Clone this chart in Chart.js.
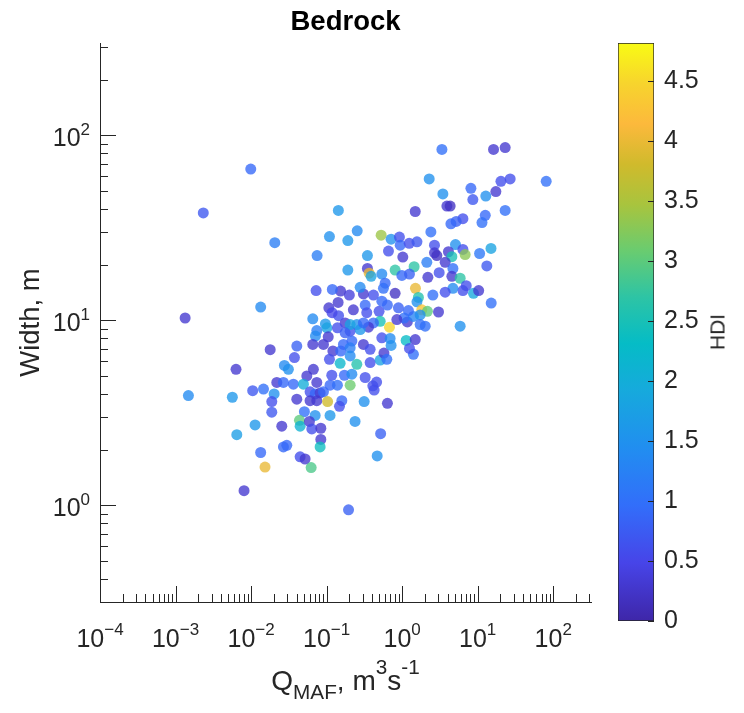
<!DOCTYPE html>
<html>
<head>
<meta charset="utf-8">
<script src="https://cdn.jsdelivr.net/npm/chart.js@4.4.1/dist/chart.umd.min.js"></script>
<style>
    body { margin: 0; background: #fff; }
    #wrap { position: relative; width: 744px; height: 713px; font-family: 'Liberation Sans', Arial, Helvetica, sans-serif; color: #262626; }
    #wrap canvas { position: absolute; left: 0; top: 0; }
    #xtitle { position: absolute; left: 100px; width: 491px; top: 667px; text-align: center; font-size: 28px; line-height: 1; white-space: nowrap; }
    #xtitle sub { font-size: 0.74em; vertical-align: -0.45em; line-height: 0; }
    #xtitle sup { font-size: 0.74em; vertical-align: 0.75em; line-height: 0; }
    #cbtitle { position: absolute; left: 717px; top: 332px; font-size: 21px; line-height: 1; transform: translate(-50%, -50%) rotate(-90deg); }
</style>
</head>
<body>
<div id="wrap">
    <canvas id="scatterChart" width="744" height="713"></canvas>
    <canvas id="colorbar" width="744" height="713"></canvas>
    <div id="xtitle">Q<sub>MAF</sub>, m<sup>3</sup>s<sup>-1</sup></div>
    <div id="cbtitle">HDI</div>
</div>
<script>
// Bedrock channels: mean annual flood discharge vs width, coloured by HDI

// Q_MAF (m3/s)
const qmaf = [
    3.36, 16.2, 23.1, 80.7, 0.0099, 0.00233, 0.143, 0.0206, 0.109, 0.191,
    0.0748, 0.191, 0.0134, 0.00134, 0.00632, 0.00148, 0.00565, 0.00647, 0.00807, 0.0153,
    0.195, 2.28, 20.3, 26.9, 8.13, 3.46, 8.63, 12.8, 17.4, 3.91,
    4.32, 23.1, 1.49, 12.6, 11.4, 6.37, 5.19, 4.42, 2.40, 0.254,
    0.527, 0.714, 0.920, 0.942, 1.24, 1.57, 2.68, 5.08, 6.37, 6.82,
    10.6, 15.0, 13.2, 0.659, 0.347, 1.02, 2.68, 2.88, 4.10, 4.55,
    2.12, 3.71, 1.44, 0.807, 0.347, 0.366, 0.388, 0.538, 0.991, 1.25,
    2.19, 3.09, 4.70, 4.55, 5.86, 7.05, 6.37, 8.80, 10.3, 15.1,
    4.70, 3.71, 2.55, 1.50, 1.64, 1.57, 1.82, 2.16, 3.03, 5.86,
    0.679, 1.13, 1.49, 2.02, 1.17, 1.41, 0.596, 0.565, 0.807, 0.417,
    0.307, 0.200, 0.153, 0.119, 0.142, 0.226, 0.324, 0.340, 0.495, 0.638,
    0.893, 1.21, 1.06, 0.851, 0.512, 0.417, 0.358, 0.251, 0.176, 0.144,
    0.205, 0.278, 0.538, 0.693, 0.216, 0.538, 1.73, 1.73, 0.278, 0.205,
    0.307, 0.107, 0.118, 0.0656, 0.0964, 0.101, 0.139, 0.176, 0.0741, 0.0711,
    0.105, 0.0656, 0.0908, 0.0403, 0.0179, 0.0726, 0.307, 0.167, 0.121, 0.154,
    0.205, 0.377, 0.0375, 0.109, 0.151, 0.205, 0.251, 0.377, 0.512, 0.0276,
    0.0312, 0.0668, 0.0547, 0.117, 0.172, 0.216, 0.324, 0.459, 0.0219, 0.0268,
    0.0363, 0.0493, 0.0741, 0.111, 0.139, 0.205, 0.409, 0.426, 0.0105, 0.0146,
    0.0202, 0.0604, 0.0705, 0.0820, 0.0908, 0.0403, 0.0604, 0.0741, 0.103, 0.159,
    0.148, 0.314, 0.0188, 0.0188, 0.0508, 0.0705, 0.111, 0.0113, 0.0255, 0.0437,
    0.0446, 0.0592, 0.0637, 0.0838, 0.238, 0.0838, 0.0820, 0.0268, 0.0297, 0.0134,
    0.0446, 0.0519, 0.0624, 0.467, 0.519, 1.41, 1.25, 0.574, 0.627, 0.638,
    0.714
];

// Width (m)
const widthM = [
    84, 84, 86, 56.5, 65.8, 38.1, 39.3, 26.3, 28.4, 27.0,
    22.4, 18.7, 11.8, 10.3, 5.44, 3.92, 3.84, 2.41, 1.20, 1.61,
    0.946, 58.2, 56.5, 58.2, 51.8, 48.3, 45.0, 47.0, 49.7, 41.5,
    41.5, 39.3, 38.8, 37.0, 33.8, 35.5, 34.3, 33.3, 30.1, 30.5,
    28.9, 27.5, 28.2, 25.5, 26.1, 26.6, 25.5, 25.7, 24.2, 22.7,
    23.0, 24.5, 19.7, 23.7, 22.4, 22.0, 23.2, 22.4, 23.5, 22.1,
    20.6, 20.6, 19.5, 18.7, 19.1, 18.0, 17.3, 17.8, 17.5, 17.8,
    17.1, 18.1, 19.1, 17.3, 16.9, 15.4, 14.5, 14.0, 14.5, 12.4,
    14.9, 14.2, 13.7, 14.9, 13.3, 12.6, 11.4, 11.2, 11.1, 9.30,
    9.19, 7.79, 7.88, 9.30, 9.81, 10.5, 15.9, 14.9, 14.0, 13.7,
    13.9, 13.7, 14.4, 14.7, 12.5, 11.4, 12.1, 11.0, 11.2, 12.1,
    11.7, 11.3, 10.3, 10.1, 9.89, 9.69, 9.19, 9.49, 9.69, 10.6,
    8.74, 8.92, 8.05, 7.98, 7.73, 12.7, 10.7, 9.49, 15.1, 9.49,
    9.69, 11.7, 11.0, 10.2, 9.57, 9.11, 9.11, 8.56, 8.81, 8.22,
    8.15, 7.41, 7.41, 7.26, 6.94, 14.5, 7.41, 7.41, 6.83, 6.83,
    7.11, 6.97, 6.29, 6.16, 5.86, 6.42, 5.79, 5.91, 6.10, 5.71,
    5.44, 5.44, 5.01, 5.05, 5.05, 5.12, 4.91, 4.64, 4.62, 4.62,
    4.52, 4.52, 4.62, 4.46, 4.46, 4.46, 4.43, 4.20, 4.17, 4.25,
    4.00, 4.11, 4.00, 4.05, 4.11, 3.75, 3.68, 3.68, 3.64, 3.68,
    3.43, 3.64, 3.64, 3.19, 3.21, 3.06, 3.06, 2.72, 2.68, 2.88,
    2.68, 2.84, 2.59, 2.61, 2.84, 2.27, 2.07, 2.07, 2.11, 1.93,
    1.83, 1.78, 1.60, 1.85, 2.44, 6.55, 7.05, 6.66, 6.16, 3.56,
    7.32
];

// HDI (colour)
const hdi = [
    1.0, 0.3, 0.3, 1.0, 0.9, 0.7, 1.6, 1.2, 1.5, 1.6,
    1.2, 1.6, 1.4, 0.3, 0.3, 1.4, 1.6, 1.7, 0.3, 4.0,
    0.8, 1.5, 0.6, 0.6, 0.9, 1.5, 0.7, 1.5, 0.3, 0.3,
    0.2, 1.0, 0.3, 0.9, 1.0, 0.6, 0.8, 0.9, 1.0, 1.4,
    3.4, 1.5, 0.6, 0.9, 0.6, 0.7, 0.6, 1.5, 0.6, 3.3,
    1.1, 1.8, 0.7, 0.6, 1.6, 0.3, 0.3, 0.2, 0.3, 2.5,
    1.2, 0.3, 2.7, 2.7, 0.3, 4.0, 1.8, 1.4, 0.9, 0.8,
    0.3, 0.6, 1.0, 0.3, 2.7, 0.6, 0.6, 1.9, 0.3, 1.0,
    1.4, 0.6, 1.0, 4.0, 2.6, 1.5, 4.3, 3.0, 0.3, 1.5,
    4.5, 2.3, 0.3, 1.0, 0.3, 1.3, 0.9, 1.0, 0.2, 0.6,
    0.3, 0.4, 0.3, 0.9, 0.3, 0.3, 0.9, 0.6, 0.6, 0.9,
    0.8, 0.9, 1.0, 0.3, 2.5, 0.9, 0.3, 1.5, 0.3, 0.6,
    0.6, 1.6, 0.6, 1.4, 0.9, 0.9, 1.5, 1.0, 1.4, 1.8,
    0.9, 0.3, 0.5, 1.4, 1.6, 1.8, 0.6, 0.8, 1.2, 1.4,
    0.3, 0.3, 0.3, 0.8, 0.3, 0.6, 0.3, 0.9, 0.3, 0.9,
    1.2, 0.6, 0.6, 0.6, 2.2, 1.4, 2.6, 0.6, 1.8, 1.4,
    1.5, 0.3, 0.3, 0.6, 0.9, 1.4, 0.6, 0.6, 0.3, 0.9,
    0.9, 2.0, 0.3, 0.9, 1.0, 3.1, 0.6, 0.6, 0.7, 1.0,
    1.5, 0.6, 0.9, 0.3, 0.9, 0.3, 0.3, 0.3, 3.8, 0.9,
    0.6, 1.5, 0.6, 0.7, 1.0, 1.5, 1.6, 1.6, 0.3, 3.0,
    2.1, 0.3, 0.6, 0.3, 1.5, 0.3, 2.4, 0.9, 0.9, 0.9,
    0.6, 0.3, 2.9, 1.5, 0.8, 1.0, 0.6, 0.3, 1.0, 0.3,
    1.5
];

// Axis ranges and tick labels
const xRange = [1e-4, 316.2];
const yRange = [0.3162, 316.2];
const xDecades = [1e-4, 1e-3, 1e-2, 1e-1, 1, 10, 100];
const yDecades = [1, 10, 100];
const minorSteps = [2, 3, 4, 5, 6, 7, 8, 9];
const hdiRange = [0, 4.82];
const hdiTicks = [0, 0.5, 1, 1.5, 2, 2.5, 3, 3.5, 4, 4.5];

const FONT = "'Liberation Sans', Arial, Helvetica, sans-serif";
const AXIS_COLOR = '#262626';

// parula colormap stops
const parulaStops = [
    [0.00, [62, 38, 168]],
    [0.10, [71, 68, 232]],
    [0.20, [50, 110, 250]],
    [0.30, [33, 142, 240]],
    [0.40, [22, 170, 220]],
    [0.48, [5, 188, 198]],
    [0.56, [45, 196, 165]],
    [0.64, [105, 204, 112]],
    [0.72, [168, 196, 62]],
    [0.79, [208, 186, 44]],
    [0.86, [252, 185, 60]],
    [0.93, [247, 212, 45]],
    [1.00, [249, 251, 20]]
];

function parula(t, alpha) {
    t = Math.max(0, Math.min(1, t));
    let i = 1;
    while (i < parulaStops.length - 1 && parulaStops[i][0] < t) i++;
    const [t0, c0] = parulaStops[i - 1];
    const [t1, c1] = parulaStops[i];
    const f = (t - t0) / (t1 - t0);
    const c = c0.map((v, k) => Math.round(v + (c1[k] - v) * f));
    return `rgba(${c[0]}, ${c[1]}, ${c[2]}, ${alpha})`;
}

// "10" with a raised exponent, like MATLAB's log tick labels
function drawPow(ctx, value, x, baseline, align) {
    const exp = String(Math.round(Math.log10(value))).replace('-', '\u2212');
    ctx.font = `25px ${FONT}`;
    const wBase = ctx.measureText('10').width;
    ctx.font = `17px ${FONT}`;
    const wExp = ctx.measureText(exp).width;
    const left = align === 'center' ? x - (wBase + wExp) / 2 : x - wBase - wExp;
    ctx.textAlign = 'left';
    ctx.textBaseline = 'alphabetic';
    ctx.font = `25px ${FONT}`;
    ctx.fillText('10', left, baseline);
    ctx.font = `17px ${FONT}`;
    ctx.fillText(exp, left + wBase, baseline - 11.7);
}

// Inward tick marks and power-of-ten labels
const logAxes = {
    id: 'logAxes',
    afterDraw(chart) {
        const { ctx, chartArea: a, scales: { x, y } } = chart;
        ctx.save();
        ctx.strokeStyle = AXIS_COLOR;
        ctx.lineWidth = 1;
        ctx.beginPath();
        const mark = (scale, v, len, horizontal) => {
            if (v < scale.min * 0.999 || v > scale.max * 1.001) return;
            const p = Math.round(scale.getPixelForValue(v)) + 0.5;
            if (horizontal) { ctx.moveTo(p, a.bottom); ctx.lineTo(p, a.bottom - len); }
            else { ctx.moveTo(a.left, p); ctx.lineTo(a.left + len, p); }
        };
        [1e-5].concat(xDecades).forEach(d => {
            mark(x, d, 16, true);
            minorSteps.forEach(m => mark(x, d * m, 8, true));
        });
        [0.1].concat(yDecades).forEach(d => {
            mark(y, d, 16, false);
            minorSteps.forEach(m => mark(y, d * m, 8, false));
        });
        ctx.stroke();

        ctx.fillStyle = AXIS_COLOR;
        x.ticks.forEach(t => drawPow(ctx, t.value, x.getPixelForValue(t.value), a.bottom + 45, 'center'));
        y.ticks.forEach(t => drawPow(ctx, t.value, a.left - 10, y.getPixelForValue(t.value) + 11, 'right'));
        ctx.restore();
    }
};

const cbTicks = {
    id: 'cbTicks',
    afterDraw(chart) {
        const { ctx, chartArea: a, scales: { y } } = chart;
        ctx.save();
        ctx.strokeStyle = AXIS_COLOR;
        ctx.lineWidth = 1;
        ctx.beginPath();
        hdiTicks.forEach(v => {
            const p = Math.round(y.getPixelForValue(v)) + 0.5;
            ctx.moveTo(a.right, p);
            ctx.lineTo(a.right - 6, p);
        });
        ctx.stroke();
        ctx.restore();
    }
};

const tickFont = { family: FONT, size: 25 };

new Chart(document.getElementById('scatterChart'), {
    type: 'scatter',
    data: {
        datasets: [{
            data: qmaf.map((q, i) => ({ x: q, y: widthM[i] })),
            pointRadius: 5.5,
            pointHoverRadius: 5.5,
            pointBorderWidth: 0,
            pointBackgroundColor: hdi.map(h => parula(h / hdiRange[1], 0.78))
        }]
    },
    options: {
        responsive: false,
        animation: false,
        devicePixelRatio: 1,
        layout: { padding: { left: 0, right: 153, top: 0, bottom: 0 } },
        plugins: {
            legend: { display: false },
            tooltip: { enabled: false },
            title: {
                display: true,
                text: 'Bedrock',
                fullSize: false,
                color: '#000',
                font: { family: FONT, size: 27.5, weight: 'bold' },
                padding: { top: 5.5, bottom: 4.5 }
            }
        },
        scales: {
            x: {
                type: 'logarithmic',
                min: xRange[0],
                max: xRange[1],
                afterBuildTicks: s => { s.ticks = xDecades.map(v => ({ value: v, major: true })); },
                afterFit: s => { s.height = 111; },
                grid: { display: false, drawTicks: false },
                border: { display: true, color: AXIS_COLOR, width: 1 },
                ticks: { display: false, autoSkip: false }
            },
            y: {
                type: 'logarithmic',
                min: yRange[0],
                max: yRange[1],
                afterBuildTicks: s => { s.ticks = yDecades.map(v => ({ value: v, major: true })); },
                afterFit: s => { s.width = 100; },
                grid: { display: false, drawTicks: false },
                border: { display: true, color: AXIS_COLOR, width: 1 },
                title: {
                    display: true,
                    text: 'Width, m',
                    color: AXIS_COLOR,
                    font: { family: FONT, size: 27.5 },
                    padding: { top: 14.5, bottom: 0 }
                },
                ticks: { display: false, autoSkip: false }
            }
        }
    },
    plugins: [logAxes]
});

// Colour bar
new Chart(document.getElementById('colorbar'), {
    type: 'bar',
    data: {
        labels: ['HDI'],
        datasets: [{
            data: [hdiRange],
            backgroundColor: ctx => {
                const area = ctx.chart.chartArea;
                if (!area) return 'rgba(0,0,0,0)';
                const g = ctx.chart.ctx.createLinearGradient(0, area.bottom, 0, area.top);
                parulaStops.forEach(([t, c]) => g.addColorStop(t, `rgb(${c[0]}, ${c[1]}, ${c[2]})`));
                return g;
            },
            borderColor: AXIS_COLOR,
            borderWidth: 1,
            borderSkipped: false,
            barPercentage: 1,
            categoryPercentage: 1
        }]
    },
    options: {
        responsive: false,
        animation: false,
        devicePixelRatio: 1,
        layout: { padding: { left: 618, right: 0, top: 43, bottom: 92 } },
        plugins: { legend: { display: false }, tooltip: { enabled: false } },
        scales: {
            x: { display: false },
            y: {
                position: 'right',
                min: hdiRange[0],
                max: hdiRange[1],
                afterBuildTicks: s => { s.ticks = hdiTicks.map(v => ({ value: v })); },
                afterFit: s => { s.width = 90; },
                grid: { display: false, drawTicks: false },
                border: { display: false },
                ticks: { autoSkip: false, padding: 10, font: tickFont, color: AXIS_COLOR, callback: v => String(v) }
            }
        }
    },
    plugins: [cbTicks]
});
</script>
</body>
</html>
